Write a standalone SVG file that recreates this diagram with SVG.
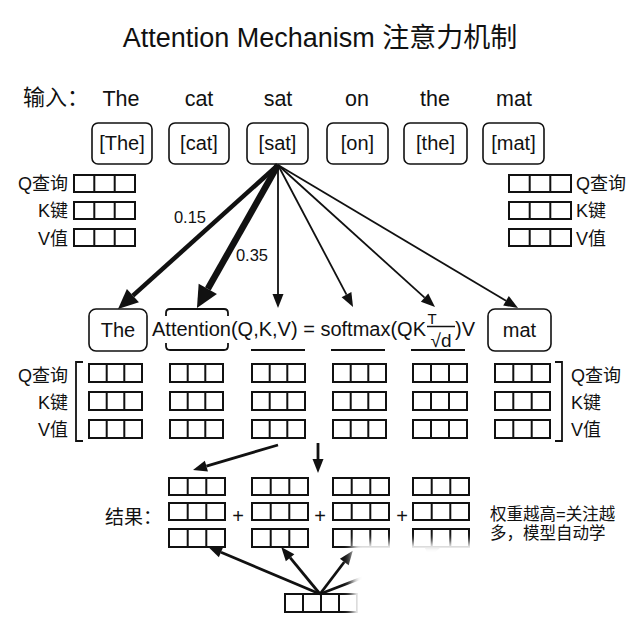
<svg xmlns="http://www.w3.org/2000/svg" width="640" height="640" viewBox="0 0 640 640">
<style>
.t{font-family:"Liberation Sans","Noto Sans CJK SC",sans-serif;fill:#111}
.c{fill:none;stroke:#111;stroke-width:2}
.box{fill:#fff;stroke:#111;stroke-width:1.6}
.ln{fill:none;stroke:#111}
.mid{text-anchor:middle}
.end{text-anchor:end}
</style>
<defs>
<marker id="ahThin" markerUnits="userSpaceOnUse" markerWidth="40" markerHeight="40" viewBox="0 -20 40 40" refX="0" refY="0" orient="auto" overflow="visible"><path d="M0,-5.5L14,0L0,5.5z" fill="#111"/></marker>
<marker id="ahMed" markerUnits="userSpaceOnUse" markerWidth="40" markerHeight="40" viewBox="0 -20 40 40" refX="0" refY="0" orient="auto" overflow="visible"><path d="M0,-9L20,0L0,9z" fill="#111"/></marker>
<marker id="ahBig" markerUnits="userSpaceOnUse" markerWidth="40" markerHeight="40" viewBox="0 -20 40 40" refX="0" refY="0" orient="auto" overflow="visible"><path d="M0,-10.5L22,0L0,10.5z" fill="#111"/></marker>
<filter id="soft" x="-20%" y="-20%" width="140%" height="140%"><feGaussianBlur stdDeviation="4"/></filter>
</defs>
<rect width="640" height="640" fill="#fff"/>

<text id="title" class="t mid" x="320" y="47" font-size="27">Attention Mechanism 注意力机制</text>

<g id="input-row" class="t" font-size="21.5">
<text x="23" y="105" font-size="22">输入：</text>
<text class="mid" x="121" y="106">The</text>
<text class="mid" x="199" y="106">cat</text>
<text class="mid" x="278" y="106">sat</text>
<text class="mid" x="357" y="106">on</text>
<text class="mid" x="435" y="106">the</text>
<text class="mid" x="514" y="106">mat</text>
</g>

<g id="tok-the"><rect class="box" x="92" y="123" width="60" height="41" rx="6"/><text class="t mid" x="122" y="150" font-size="20">[The]</text></g>
<g id="tok-cat"><rect class="box" x="169" y="123" width="60" height="41" rx="6"/><text class="t mid" x="199" y="150" font-size="20">[cat]</text></g>
<g id="tok-sat"><rect class="box" x="247" y="123" width="61" height="41" rx="6"/><text class="t mid" x="277.5" y="150" font-size="20">[sat]</text></g>
<g id="tok-on"><rect class="box" x="327" y="123" width="61" height="41" rx="6"/><text class="t mid" x="357.5" y="150" font-size="20">[on]</text></g>
<g id="tok-the2"><rect class="box" x="404" y="123" width="63" height="41" rx="6"/><text class="t mid" x="435.5" y="150" font-size="20">[the]</text></g>
<g id="tok-mat"><rect class="box" x="483" y="123" width="61" height="41" rx="6"/><text class="t mid" x="513.5" y="150" font-size="20">[mat]</text></g>

<g id="qkv-left">
<text class="t end" x="68" y="190" font-size="18">Q查询</text>
<text class="t end" x="68" y="217" font-size="18">K键</text>
<text class="t end" x="68" y="245" font-size="18">V值</text>
<rect class="c" x="74" y="175" width="61" height="17"/><rect class="c" x="74" y="202" width="61" height="17"/><rect class="c" x="74" y="229" width="61" height="17"/>
<path class="c" d="M94.3 175v17m0 10v17m0 10v17M114.7 175v17m0 10v17m0 10v17"/>
</g>
<g id="qkv-right">
<rect class="c" x="509" y="175" width="62" height="17"/><rect class="c" x="509" y="202" width="62" height="17"/><rect class="c" x="509" y="229" width="62" height="17"/>
<path class="c" d="M529.7 175v17m0 10v17m0 10v17M550.3 175v17m0 10v17m0 10v17"/>
<text class="t" x="576" y="190" font-size="18">Q查询</text>
<text class="t" x="576" y="217" font-size="18">K键</text>
<text class="t" x="576" y="245" font-size="18">V值</text>
</g>

<g id="connectors">
<line class="ln" x1="278" y1="165" x2="132.9" y2="295.6" stroke-width="4.5" marker-end="url(#ahMed)"/>
<line class="ln" x1="278" y1="165" x2="207.8" y2="288.9" stroke-width="6.5" marker-end="url(#ahBig)"/>
<line class="ln" x1="278" y1="165" x2="278" y2="294" stroke-width="1.8" marker-end="url(#ahThin)"/>
<line class="ln" x1="278" y1="165" x2="346.5" y2="294.6" stroke-width="1.8" marker-end="url(#ahThin)"/>
<line class="ln" x1="278" y1="165" x2="424.6" y2="297.6" stroke-width="1.8" marker-end="url(#ahThin)"/>
<line class="ln" x1="278" y1="165" x2="506" y2="300.8" stroke-width="1.8" marker-end="url(#ahThin)"/>
<line class="ln" x1="278" y1="445" x2="206.4" y2="466.1" stroke-width="2.8" marker-end="url(#ahThin)"/>
<line class="ln" x1="318" y1="443" x2="318" y2="459" stroke-width="2.8" marker-end="url(#ahThin)"/>
<line class="ln" x1="320" y1="594" x2="221" y2="552.3" stroke-width="2.8" marker-end="url(#ahThin)"/>
<line class="ln" x1="320" y1="594" x2="290.1" y2="557.7" stroke-width="2.8" marker-end="url(#ahThin)"/>
<line class="ln" x1="320" y1="594" x2="344.3" y2="562" stroke-width="2.8" marker-end="url(#ahThin)"/>
<line class="ln" x1="320" y1="594" x2="426.9" y2="552.9" stroke-width="2.8" marker-end="url(#ahThin)"/>
<text class="t mid" x="190" y="223" font-size="16.5">0.15</text>
<text class="t mid" x="252" y="261" font-size="16.5">0.35</text>
</g>

<g id="out-the"><rect class="box" x="89" y="309" width="58" height="42" rx="7"/><text class="t mid" x="118" y="337" font-size="20">The</text></g>
<g id="out-mat"><rect class="box" x="488" y="309" width="63" height="42" rx="7"/><text class="t mid" x="519.5" y="337" font-size="20">mat</text></g>

<g id="formula">
<text class="t" x="152" y="336" font-size="20">Attention(Q,K,V) = softmax(QK</text>
<text class="t mid" x="432" y="324" font-size="15">T</text>
<line class="ln" x1="427" y1="326.5" x2="455" y2="326.5" stroke-width="1.5"/>
<text class="t mid" x="441" y="347" font-size="19">√d</text>
<text class="t" x="455" y="336" font-size="20">)V</text>
<path class="ln" stroke-width="1.8" d="M166 316v-3q0-4 4-4h54q4 0 4 4v3M166 343v3q0 4 4 4h54q4 0 4-4v-3"/>
<path class="ln" stroke-width="1.8" d="M251 350h54M331 350h54M411 350h54"/>
</g>

<g id="qkv-grid">
<text class="t end" x="68" y="382" font-size="18">Q查询</text>
<text class="t end" x="68" y="409" font-size="18">K键</text>
<text class="t end" x="68" y="436" font-size="18">V值</text>
<path class="ln" stroke-width="1.8" d="M83 362h-7v79h7M555 362h7v79h-7"/>
<text class="t" x="571" y="382" font-size="18">Q查询</text>
<text class="t" x="571" y="409" font-size="18">K键</text>
<text class="t" x="571" y="436" font-size="18">V值</text>
<g id="g1"><rect class="c" x="89" y="364" width="53" height="18"/><rect class="c" x="89" y="392" width="53" height="18"/><rect class="c" x="89" y="420" width="53" height="18"/><path class="c" d="M106.7 364v18m0 10v18m0 10v18M124.3 364v18m0 10v18m0 10v18"/></g>
<g id="g2"><rect class="c" x="170" y="364" width="53" height="18"/><rect class="c" x="170" y="392" width="53" height="18"/><rect class="c" x="170" y="420" width="53" height="18"/><path class="c" d="M187.7 364v18m0 10v18m0 10v18M205.3 364v18m0 10v18m0 10v18"/></g>
<g id="g3"><rect class="c" x="252" y="364" width="53" height="18"/><rect class="c" x="252" y="392" width="53" height="18"/><rect class="c" x="252" y="420" width="53" height="18"/><path class="c" d="M269.7 364v18m0 10v18m0 10v18M287.3 364v18m0 10v18m0 10v18"/></g>
<g id="g4"><rect class="c" x="333" y="364" width="53" height="18"/><rect class="c" x="333" y="392" width="53" height="18"/><rect class="c" x="333" y="420" width="53" height="18"/><path class="c" d="M350.7 364v18m0 10v18m0 10v18M368.3 364v18m0 10v18m0 10v18"/></g>
<g id="g5"><rect class="c" x="413" y="364" width="54" height="18"/><rect class="c" x="413" y="392" width="54" height="18"/><rect class="c" x="413" y="420" width="54" height="18"/><path class="c" d="M431 364v18m0 10v18m0 10v18M449 364v18m0 10v18m0 10v18"/></g>
<g id="g6"><rect class="c" x="495" y="364" width="55" height="18"/><rect class="c" x="495" y="392" width="55" height="18"/><rect class="c" x="495" y="420" width="55" height="18"/><path class="c" d="M513.3 364v18m0 10v18m0 10v18M531.7 364v18m0 10v18m0 10v18"/></g>
</g>

<g id="result">
<text class="t" x="105" y="524" font-size="19">结果：</text>
<g id="r1"><rect class="c" x="169" y="478" width="56" height="17"/><rect class="c" x="169" y="503" width="56" height="17"/><rect class="c" x="169" y="529" width="56" height="18"/><path class="c" d="M187.7 478v17m0 8v17m0 9v18M206.3 478v17m0 8v17m0 9v18"/></g>
<g id="r2"><rect class="c" x="252" y="478" width="56" height="17"/><rect class="c" x="252" y="503" width="56" height="17"/><rect class="c" x="252" y="529" width="56" height="18"/><path class="c" d="M270.7 478v17m0 8v17m0 9v18M289.3 478v17m0 8v17m0 9v18"/></g>
<g id="r3"><rect class="c" x="333" y="478" width="56" height="17"/><rect class="c" x="333" y="503" width="56" height="17"/><rect class="c" x="333" y="529" width="56" height="18"/><path class="c" d="M351.7 478v17m0 8v17m0 9v18M370.3 478v17m0 8v17m0 9v18"/></g>
<g id="r4"><rect class="c" x="413" y="478" width="56" height="17"/><rect class="c" x="413" y="503" width="56" height="17"/><rect class="c" x="413" y="529" width="56" height="18"/><path class="c" d="M431.7 478v17m0 8v17m0 9v18M450.3 478v17m0 8v17m0 9v18"/></g>
<text class="t mid" x="238" y="523" font-size="20">+</text>
<text class="t mid" x="320" y="523" font-size="20">+</text>
<text class="t mid" x="402" y="523" font-size="20">+</text>
<g id="src"><rect class="c" x="285" y="594" width="72" height="18"/><path class="c" d="M303 594v18M321 594v18M339 594v18"/></g>
<text class="t" x="490" y="520" font-size="16.5">权重越高=关注越</text>
<text class="t" x="490" y="539" font-size="16.5">多，模型自动学</text>
</g>

<rect x="352" y="542" width="130" height="95" fill="#fff" filter="url(#soft)"/>
</svg>
